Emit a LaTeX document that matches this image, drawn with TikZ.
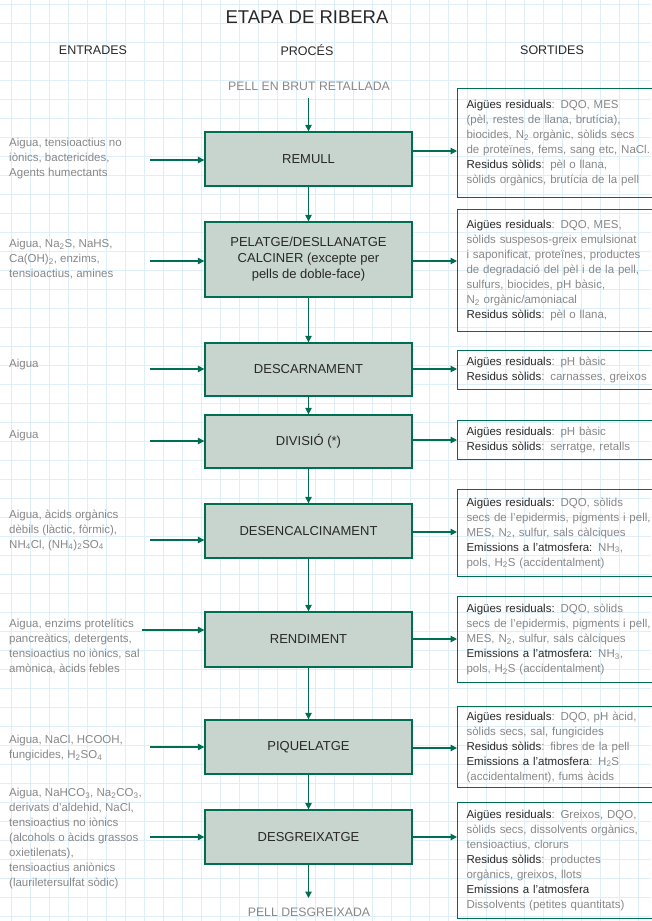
\documentclass[tikz,border=0pt]{standalone}
\usepackage{fontspec}
\setmainfont{Liberation Sans}
\usetikzlibrary{arrows.meta, positioning, calc}

\definecolor{procgreen}{RGB}{0,110,80}
\definecolor{procfill}{RGB}{200,213,206}
\definecolor{textgray}{RGB}{135,135,135}
\definecolor{textdark}{RGB}{40,40,40}
\definecolor{gridblue}{RGB}{222,239,250}

\tikzset{
  gridline/.style={gridblue, line width=0.7pt},
  flow/.style={procgreen, line width=1.2pt, -{Triangle[length=6.5pt,width=6.5pt]}},
  procbox/.style={draw=procgreen, fill=procfill, line width=1.3pt, minimum width=207pt,
    text=textdark, align=center, font=\fontsize{13}{16}\selectfont},
  outbox/.style={draw=procgreen, line width=1.1pt, anchor=north west, align=left,
    text width=205pt, inner xsep=9pt, text=textgray, font=\fontsize{11.5}{15}\selectfont},
  intext/.style={anchor=west, align=left, inner sep=0pt, text=textgray,
    font=\fontsize{11.5}{15}\selectfont},
  header/.style={text=textdark, font=\fontsize{12.5}{15}\selectfont},
  pelltext/.style={text=textgray, font=\fontsize{12.3}{14}\selectfont},
}
\newcommand{\clau}[1]{\textcolor{textdark}{#1}}

\begin{document}
\begin{tikzpicture}[x=1pt, y=-1pt]
\useasboundingbox (0,0) rectangle (651,921);
% graph paper
\foreach \gx in {11,30,...,650} \draw[gridline] (\gx,0) -- (\gx,921);
\foreach \gy in {4,23,...,920} \draw[gridline] (0,\gy) -- (651,\gy);

% headings
\node[text=textdark, font=\fontsize{18.5}{20}\selectfont] (titol) at (307,17) {ETAPA DE RIBERA};
\node[header] (entrades) at (93,50) {ENTRADES};
\node[header] (proces) at (307,50) {PROCÉS};
\node[header] (sortides) at (552,50) {SORTIDES};

% process column
\node[pelltext] (brut) at (309,86) {PELL EN BRUT RETALLADA};
\coordinate (brutend) at (308.5,98);
\node[procbox, minimum height=54pt] (remull) at (308.5,159) {REMULL};
\node[procbox, minimum height=75pt] (pelatge) at (308.5,259.5)
  {PELATGE/DESLLANATGE\\CALCINER (excepte per\\pells de doble-face)};
\node[procbox, minimum height=53pt] (descarn) at (308.5,369.5) {DESCARNAMENT};
\node[procbox, minimum height=53pt] (divisio) at (308.5,441.5) {DIVISIÓ (*)};
\node[procbox, minimum height=54pt] (desencal) at (308.5,531) {DESENCALCINAMENT};
\node[procbox, minimum height=55pt] (rendiment) at (308.5,639.5) {RENDIMENT};
\node[procbox, minimum height=54pt] (piquel) at (308.5,747) {PIQUELATGE};
\node[procbox, minimum height=54pt] (desgreix) at (308.5,837) {DESGREIXATGE};
\coordinate (desgreixend) at (308.5,898);
\node[pelltext] (pelldesg) at (309,912) {PELL DESGREIXADA};

\draw[flow] (brutend) -- (remull);
\draw[flow] (remull) -- (pelatge);
\draw[flow] (pelatge) -- (descarn);
\draw[flow] (descarn) -- (divisio);
\draw[flow] (divisio) -- (desencal);
\draw[flow] (desencal) -- (rendiment);
\draw[flow] (rendiment) -- (piquel);
\draw[flow] (piquel) -- (desgreix);
\draw[flow] (desgreix) -- (desgreixend);

% inputs
\node[intext] (in1) at (9,159) {Aigua, tensioactius no\\iònics, bactericides,\\Agents humectants};
\node[intext] (in2) at (9,259.5) {Aigua, Na\textsubscript{2}S, NaHS,\\Ca(OH)\textsubscript{2}, enzims,\\tensioactius, amines};
\node[intext] (in3) at (9,365) {Aigua};
\node[intext] (in4) at (9,436) {Aigua};
\node[intext] (in5) at (9,530) {Aigua, àcids orgànics\\dèbils (làctic, fòrmic),\\NH\textsubscript{4}Cl, (NH\textsubscript{4})\textsubscript{2}SO\textsubscript{4}};
\node[intext] (in6) at (9,646.5) {Aigua, enzims protelítics\\pancreàtics, detergents,\\tensioactius no iònics, sal\\amònica, àcids febles};
\node[intext] (in7) at (9,748.5) {Aigua, NaCl, HCOOH,\\fungicides, H\textsubscript{2}SO\textsubscript{4}};
\node[intext] (in8) at (9,838.5) {Aigua, NaHCO\textsubscript{3}, Na\textsubscript{2}CO\textsubscript{3},\\derivats d’aldehid, NaCl,\\tensioactius no iònics\\(alcohols o àcids grassos\\oxietilenats),\\tensioactius aniònics\\(laurileter­sulfat sòdic)};

\coordinate (a1) at (150,160);
\coordinate (a2) at (150,261);
\coordinate (a3) at (150,369);
\coordinate (a4) at (150,441);
\coordinate (a5) at (150,540);
\coordinate (a6) at (142,630);
\coordinate (a7) at (150,747);
\coordinate (a8) at (150,837);
\draw[flow] (a1) -- (a1 -| remull.west);
\draw[flow] (a2) -- (a2 -| pelatge.west);
\draw[flow] (a3) -- (a3 -| descarn.west);
\draw[flow] (a4) -- (a4 -| divisio.west);
\draw[flow] (a5) -- (a5 -| desencal.west);
\draw[flow] (a6) -- (a6 -| rendiment.west);
\draw[flow] (a7) -- (a7 -| piquel.west);
\draw[flow] (a8) -- (a8 -| desgreix.west);

% outputs
\node[outbox, minimum height=109pt] (sort1) at (457,88)
  {\clau{Aigües residuals}: DQO, MES\\(pèl, restes de llana, brutícia),\\biocides, N\textsubscript{2} orgànic, sòlids secs\\de proteïnes, fems, sang etc, NaCl.\\\clau{Residus sòlids}: pèl o llana,\\sòlids orgànics, brutícia de la pell};
\node[outbox, minimum height=122pt] (sort2) at (457,209)
  {\clau{Aigües residuals}: DQO, MES,\\sòlids suspesos-greix emulsionat\\i saponificat, proteïnes, productes\\de degradació del pèl i de la pell,\\sulfurs, biocides, pH bàsic,\\N\textsubscript{2} orgànic/amoniacal\\\clau{Residus sòlids}: pèl o llana,};
\node[outbox, minimum height=39pt] (sort3) at (457,350)
  {\clau{Aigües residuals}: pH bàsic\\\clau{Residus sòlids}: carnasses, greixos};
\node[outbox, minimum height=39pt] (sort4) at (457,420)
  {\clau{Aigües residuals}: pH bàsic\\\clau{Residus sòlids}: serratge, retalls};
\node[outbox, minimum height=87pt] (sort5) at (457,489)
  {\clau{Aigües residuals:} DQO, sòlids\\secs de l’epidermis, pigments i pell,\\MES, N\textsubscript{2}, sulfur, sals càlciques\\\clau{Emissions a l’atmosfera:} NH\textsubscript{3},\\pols, H\textsubscript{2}S (accidentalment)};
\node[outbox, minimum height=86pt] (sort6) at (457,596)
  {\clau{Aigües residuals:} DQO, sòlids\\secs de l’epidermis, pigments i pell,\\MES, N\textsubscript{2}, sulfur, sals càlciques\\\clau{Emissions a l’atmosfera:} NH\textsubscript{3},\\pols, H\textsubscript{2}S (accidentalment)};
\node[outbox, minimum height=81pt] (sort7) at (457,706)
  {\clau{Aigües residuals}: DQO, pH àcid,\\sòlids secs, sal, fungicides\\\clau{Residus sòlids}: fibres de la pell\\\clau{Emissions a l’atmosfera}: H\textsubscript{2}S\\(accidentalment), fums àcids};
\node[outbox, minimum height=116pt] (sort8) at (457,802)
  {\clau{Aigües residuals}: Greixos, DQO,\\sòlids secs, dissolvents orgànics,\\tensioactius, clorurs\\\clau{Residus sòlids}: productes\\orgànics, greixos, llots\\\clau{Emissions a l’atmosfera}\\Dissolvents (petites quantitats)};

\draw[flow] (remull.east |- 0,151) -- (sort1.west |- 0,151);
\draw[flow] (pelatge.east |- 0,261) -- (sort2.west |- 0,261);
\draw[flow] (descarn.east |- 0,369) -- (sort3.west |- 0,369);
\draw[flow] (divisio.east |- 0,440) -- (sort4.west |- 0,440);
\draw[flow] (desencal.east |- 0,532) -- (sort5.west |- 0,532);
\draw[flow] (rendiment.east |- 0,639) -- (sort6.west |- 0,639);
\draw[flow] (piquel.east |- 0,748) -- (sort7.west |- 0,748);
\draw[flow] (desgreix.east |- 0,837) -- (sort8.west |- 0,837);
\end{tikzpicture}
\end{document}
